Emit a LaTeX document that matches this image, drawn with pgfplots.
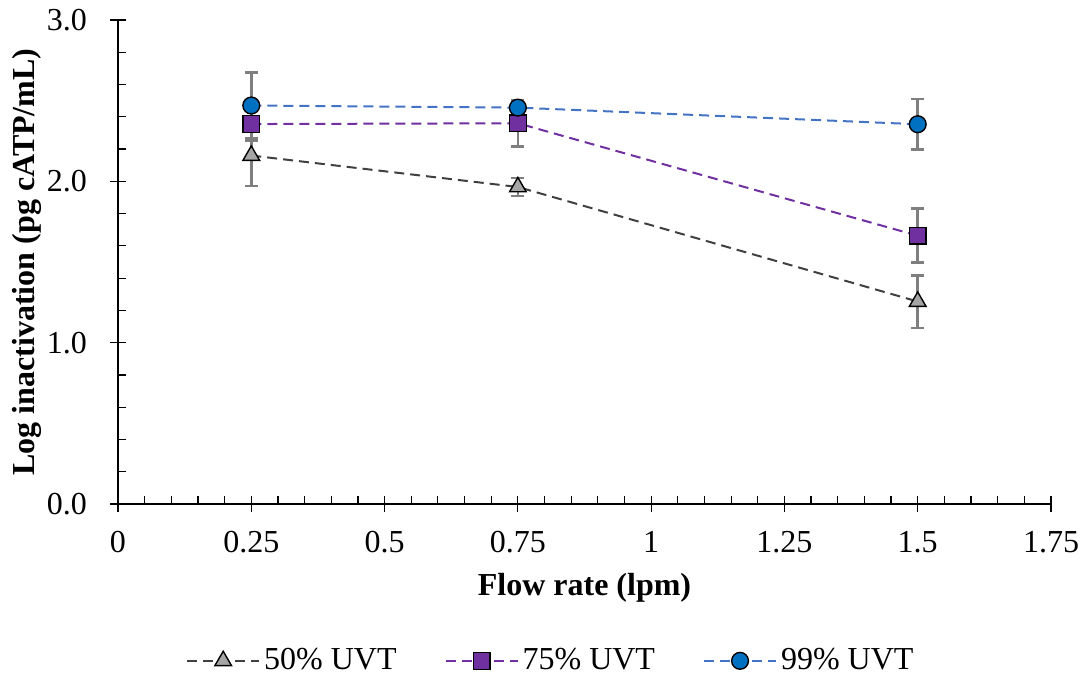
\documentclass[border=0pt]{standalone}
\usepackage{pgfplots}
\pgfplotsset{compat=1.18}
\usepackage{fontspec}
\setmainfont{Liberation Serif}
\definecolor{c50}{HTML}{404040}
\definecolor{f50}{HTML}{A5A5A5}
\definecolor{c75}{HTML}{7030A0}
\definecolor{c99}{HTML}{4472C4}
\definecolor{f99}{HTML}{0070C0}
\definecolor{eb}{HTML}{7F7F7F}
\begin{document}
\fontsize{16}{19}\selectfont
\begin{tikzpicture}
\useasboundingbox (-59pt,-86pt) rectangle (482pt,252pt);
\begin{axis}[
  scale only axis, width=466.5pt, height=242pt,
  anchor=south west, at={(0pt,0pt)},
  xmin=0, xmax=1.75, ymin=0, ymax=3,
  axis lines=left, axis line style={-, line width=0.9pt},
  xtick={0,0.25,0.5,0.75,1,1.25,1.5,1.75},
  xticklabels={0,0.25,0.5,0.75,1,1.25,1.5,1.75},
  ytick={0,1,2,3},
  yticklabels={0.0,1.0,2.0,3.0},
  minor x tick num=4, minor y tick num=4,
  tick align=center,
  major tick length=8pt, minor tick length=4pt,
  tick style={black, line width=0.6pt},
  every minor x tick/.append style={yshift=2pt},
  every minor y tick/.append style={xshift=2pt},
  /pgf/number format/assume math mode=true,
  ticklabel style={font=\fontsize{16}{19}\selectfont},
  yticklabel style={xshift=-6pt},
  xticklabel style={yshift=-4pt},
  xlabel={\textbf{Flow rate (lpm)}},
  ylabel={\textbf{Log inactivation (pg cATP/mL)}},
  xlabel style={at={(rel axis cs:0.5,-0.1736)}, anchor=center, font=\fontsize{16}{19}\selectfont},
  ylabel style={at={(rel axis cs:-0.0975,0.5)}, anchor=center, font=\fontsize{16}{19}\selectfont},
  legend columns=3,
  legend style={at={(rel axis cs:0.465,-0.324)}, anchor=center, draw=none, fill=none,
     font=\fontsize{16}{19}\selectfont, /tikz/every even column/.append style={column sep=22pt}},
  legend image code/.code={\draw[mark repeat=2,mark phase=2,#1] plot coordinates {(0pt,0pt) (18pt,0pt) (36pt,0pt)};},
  error bars/y dir=both, error bars/y explicit,
  error bars/error bar style={eb, line width=1.3pt, solid},
  error bars/error mark options={rotate=90, eb, mark size=3.2pt, line width=1.3pt, solid},
]
\addplot[c50, line width=1pt, dash pattern=on 5pt off 3pt, mark=triangle*, mark size=4.8pt,
  mark options={solid, fill=f50, draw=black, line width=0.7pt}]
  coordinates {(0.25,2.16) +- (0,0.19) (0.75,1.965) +- (0,0.055) (1.5,1.255) +- (0,0.163)};
\addlegendentry{50\% UVT}
\addplot[c75, line width=1pt, dash pattern=on 5pt off 3pt, mark=square*, mark size=4.2pt,
  mark options={solid, fill=c75, draw=black, line width=0.7pt}]
  coordinates {(0.25,2.355) +- (0,0.10) (0.75,2.36) +- (0,0.145) (1.5,1.663) +- (0,0.167)};
\addlegendentry{75\% UVT}
\addplot[c99, line width=1pt, dash pattern=on 5pt off 3pt, mark=*, mark size=4.2pt,
  mark options={solid, fill=f99, draw=black, line width=0.7pt}]
  coordinates {(0.25,2.47) +- (0,0.205) (0.75,2.457) +- (0,0.0) (1.5,2.354) +- (0,0.157)};
\addlegendentry{99\% UVT}
\end{axis}
\end{tikzpicture}
\end{document}
